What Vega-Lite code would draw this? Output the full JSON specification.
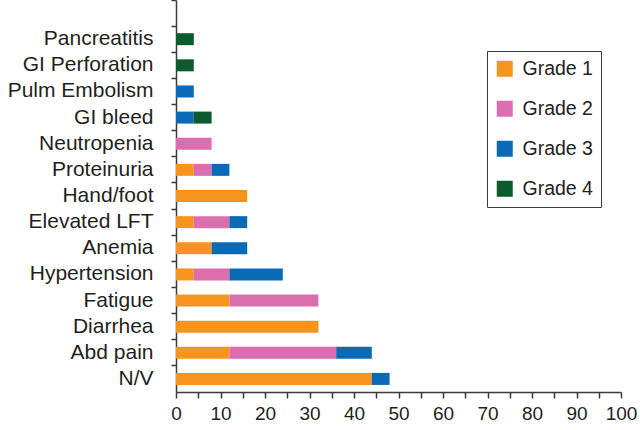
{
  "$schema": "https://vega.github.io/schema/vega-lite/v6.json",
  "width": 445,
  "height": 392,
  "autosize": {"type": "none"},
  "padding": {"left": 176, "top": 0, "right": 19, "bottom": 38},
  "background": "white",
  "config": {
    "view": {"stroke": null},
    "font": "Liberation Sans"
  },
  "data": {
    "values": [
      {"item": "Pancreatitis", "grade": "Grade 4", "g": 4, "value": 4},
      {"item": "GI Perforation", "grade": "Grade 4", "g": 4, "value": 4},
      {"item": "Pulm Embolism", "grade": "Grade 3", "g": 3, "value": 4},
      {"item": "GI bleed", "grade": "Grade 3", "g": 3, "value": 4},
      {"item": "GI bleed", "grade": "Grade 4", "g": 4, "value": 4},
      {"item": "Neutropenia", "grade": "Grade 2", "g": 2, "value": 8},
      {"item": "Proteinuria", "grade": "Grade 1", "g": 1, "value": 4},
      {"item": "Proteinuria", "grade": "Grade 2", "g": 2, "value": 4},
      {"item": "Proteinuria", "grade": "Grade 3", "g": 3, "value": 4},
      {"item": "Hand/foot", "grade": "Grade 1", "g": 1, "value": 16},
      {"item": "Elevated LFT", "grade": "Grade 1", "g": 1, "value": 4},
      {"item": "Elevated LFT", "grade": "Grade 2", "g": 2, "value": 8},
      {"item": "Elevated LFT", "grade": "Grade 3", "g": 3, "value": 4},
      {"item": "Anemia", "grade": "Grade 1", "g": 1, "value": 8},
      {"item": "Anemia", "grade": "Grade 3", "g": 3, "value": 8},
      {"item": "Hypertension", "grade": "Grade 1", "g": 1, "value": 4},
      {"item": "Hypertension", "grade": "Grade 2", "g": 2, "value": 8},
      {"item": "Hypertension", "grade": "Grade 3", "g": 3, "value": 12},
      {"item": "Fatigue", "grade": "Grade 1", "g": 1, "value": 12},
      {"item": "Fatigue", "grade": "Grade 2", "g": 2, "value": 20},
      {"item": "Diarrhea", "grade": "Grade 1", "g": 1, "value": 32},
      {"item": "Abd pain", "grade": "Grade 1", "g": 1, "value": 12},
      {"item": "Abd pain", "grade": "Grade 2", "g": 2, "value": 24},
      {"item": "Abd pain", "grade": "Grade 3", "g": 3, "value": 8},
      {"item": "N/V", "grade": "Grade 1", "g": 1, "value": 44},
      {"item": "N/V", "grade": "Grade 3", "g": 3, "value": 4}
    ]
  },
  "mark": {"type": "bar", "size": 12},
  "encoding": {
    "y": {
      "field": "item",
      "type": "nominal",
      "scale": {
        "domain": [" ", "Pancreatitis", "GI Perforation", "Pulm Embolism", "GI bleed", "Neutropenia", "Proteinuria", "Hand/foot", "Elevated LFT", "Anemia", "Hypertension", "Fatigue", "Diarrhea", "Abd pain", "N/V"],
        "paddingInner": 0,
        "paddingOuter": 0
      },
      "axis": {
        "title": null,
        "bandPosition": 0,
        "labelFontSize": 21,
        "labelColor": "#231F20",
        "labelPadding": 18,
        "labelLimit": 220,
        "tickSize": 5,
        "tickColor": "#3a3a3a",
        "tickWidth": 1.5,
        "domainColor": "#3a3a3a",
        "domainWidth": 1.5
      }
    },
    "x": {
      "field": "value",
      "type": "quantitative",
      "stack": "zero",
      "scale": {"domain": [0, 100], "nice": false},
      "axis": {
        "title": null,
        "grid": false,
        "values": [0, 5, 10, 15, 20, 25, 30, 35, 40, 45, 50, 55, 60, 65, 70, 75, 80, 85, 90, 95, 100],
        "labelExpr": "datum.value % 10 === 0 ? datum.label : ''",
        "labelFontSize": 19,
        "labelColor": "#231F20",
        "labelPadding": 6,
        "labelFlush": false,
        "labelOverlap": false,
        "tickSize": 6,
        "tickColor": "#3a3a3a",
        "tickWidth": 1.5,
        "domainColor": "#3a3a3a",
        "domainWidth": 1.5
      }
    },
    "color": {
      "field": "grade",
      "type": "nominal",
      "scale": {
        "domain": ["Grade 1", "Grade 2", "Grade 3", "Grade 4"],
        "range": ["#F7941D", "#DA6EAE", "#0A6AB6", "#0D5A2D"]
      },
      "legend": {
        "title": null,
        "orient": "none",
        "legendX": 311,
        "legendY": 51,
        "symbolType": "square",
        "symbolSize": 256,
        "symbolStrokeWidth": 0,
        "labelFontSize": 19.5,
        "labelColor": "#231F20",
        "labelOffset": 8,
        "rowPadding": 19,
        "padding": 8,
        "strokeColor": "#3a3a3a",
        "labelExpr": "datum.label + '  '"
      }
    },
    "order": {"field": "g", "type": "quantitative", "sort": "ascending"}
  }
}
